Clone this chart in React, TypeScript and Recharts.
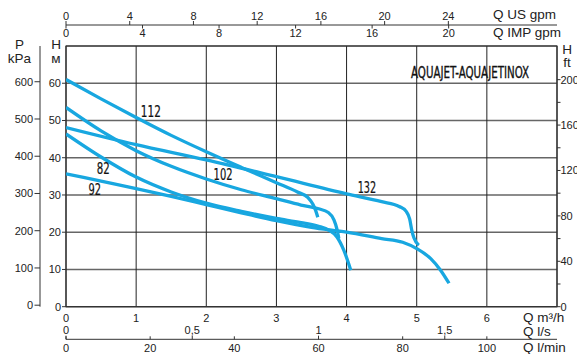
import { LineChart, Line, XAxis, YAxis, CartesianGrid, ReferenceArea, ReferenceDot } from "recharts";

// pump curves, Q in m3/h, H in m
const q82 = [0, 0.5, 1, 1.5, 2, 2.5, 3, 3.35, 3.6, 3.75, 3.86, 3.96, 4.06];
const h82 = [46.4, 40.2, 34.8, 30.8, 27.8, 25.6, 23.7, 22.6, 21.6, 20.5, 18.8, 15.2, 9.8];

const q92 = [0, 0.5, 1, 1.5, 2, 2.5, 3, 3.5, 4, 4.5, 4.8, 5.0, 5.2, 5.34, 5.46];
const h92 = [35.7, 33.7, 31.7, 29.6, 27.4, 25.2, 23.1, 21.3, 20.0, 18.3, 17.3, 15.6, 12.9, 9.8, 6.3];

const q102 = [0, 0.5, 1, 1.5, 2, 2.5, 3, 3.35, 3.6, 3.74, 3.82, 3.86, 3.89];
const h102 = [53.5, 47.2, 41.9, 37.7, 34.3, 31.4, 29.0, 27.3, 26.3, 25.3, 23.3, 21, 18.3];

const q112 = [0, 0.5, 1, 1.5, 2, 2.5, 3, 3.3, 3.45, 3.52, 3.56, 3.59];
const h112 = [61, 55.8, 50.8, 46, 41.6, 37.4, 33.3, 30.8, 29.3, 27.5, 25.8, 24];

const q132 = [0, 1, 2, 3, 4, 4.5, 4.75, 4.85, 4.9, 4.93, 4.96, 5.03];
const h132 = [48.1, 43.5, 39.4, 34.9, 30.3, 28.2, 26.9, 25.6, 23.5, 20.5, 18.5, 16.5];

const curveNames = ["82", "92", "102", "112", "132"];
const curveQ = [q82, q92, q102, q112, q132];
const curveH = [h82, h92, h102, h112, h132];

// where the model numbers sit (Q, H) and how wide they are drawn
const nameQ = [0.53, 0.41, 2.24, 1.21, 4.29];
const nameH = [37.1, 31.5, 35.5, 52.3, 32.1];
const nameW = [13, 12.5, 19, 20, 18.5];

const title = "AQUAJET-AQUAJETINOX";

// axes
const qMax = 7;
const hMax = 70;
const qTicks = [0, 1, 2, 3, 4, 5, 6, 7];
const hTicks = [0, 10, 20, 30, 40, 50, 60, 70];
const kpaTicks = [0, 100, 200, 300, 400, 500, 600];
const ftTicks = [0, 20, 40, 60, 80, 100, 120, 140, 160, 180, 200];
const usGpmTicks = [0, 4, 8, 12, 16, 20, 24];
const impGpmTicks = [0, 4, 8, 12, 16, 20];
const lsTicks = [0, 0.5, 1, 1.5];
const lminTicks = [0, 20, 40, 60, 80, 100];

const US_GPM = 4.4029;
const IMP_GPM = 3.6662;
const L_S = 1 / 3.6;
const L_MIN = 1000 / 60;
const KPA = 10;
const FT = 1 / 0.3048;

const FONT = "'Liberation Sans', Arial, Helvetica, sans-serif";
const NARROW = "'Liberation Sans Narrow', 'DejaVu Sans Condensed', 'Liberation Sans', sans-serif";
const BLUE = "#18a7e0";
const ink = "#222";

const tickText = { fontFamily: FONT, fontSize: 11, fill: ink };
const titleText = { fontFamily: FONT, fontSize: 13.5, fill: ink };

const comma = (v: number) => String(v).replace(".", ",");

const qTick = ({ x, y, payload }: any) =>
  payload.value >= qMax ? <g /> : (
    <text x={x} y={y + 15.5} textAnchor="middle" {...tickText}>{payload.value}</text>
  );

const lsTick = ({ x, y, payload }: any) => (
  <g>
    <line x1={x} x2={x} y1={y + 11} y2={y + 14.6} stroke="#333" />
    <text x={x} y={y + 9.5} textAnchor="middle" {...tickText}>{comma(payload.value)}</text>
  </g>
);

const lminTick = ({ x, y, payload }: any) => (
  <g>
    <line x1={x} x2={x} y1={y - 3} y2={y} stroke="#333" />
    <text x={x} y={y + 12.5} textAnchor="middle" {...tickText}>{payload.value}</text>
  </g>
);

const usTick = ({ x, y, payload }: any) => (
  <g>
    <line x1={x} x2={x} y1={y - 4} y2={y} stroke="#333" />
    <text x={x} y={y - 5} textAnchor="middle" {...tickText}>{payload.value}</text>
  </g>
);

const impTick = ({ x, y, payload }: any) => (
  <g>
    <line x1={x} x2={x} y1={y - 21} y2={y - 17.5} stroke="#333" />
    <text x={x} y={y - 9} textAnchor="middle" {...tickText}>{payload.value}</text>
  </g>
);

const hTick = ({ x, y, payload }: any) =>
  payload.value >= hMax ? <g /> : (
    <g>
      <line x1={x - 4} x2={x} y1={y} y2={y} stroke="#333" />
      <text x={x - 5} y={y + 4} textAnchor="end" {...tickText}>{payload.value}</text>
    </g>
  );

const kpaTick = ({ x, y, payload }: any) => (
  <g>
    <line x1={x - 5.5} x2={x} y1={y - 1.5} y2={y - 1.5} stroke="#333" />
    <text x={x - 7} y={y + 2.5} textAnchor="end" {...tickText}>{payload.value}</text>
  </g>
);

const ftTick = ({ x, y, payload }: any) => (
  <g>
    <line x1={x} x2={x + 3.5} y1={y} y2={y} stroke="#333" />
    {payload.value % 40 === 0 && (
      <text x={x + 3.5} y={y + 4} textAnchor="start" {...tickText}>{payload.value}</text>
    )}
  </g>
);

const rightTitle = (text: string, dx: number, dy: number) => (props: any) => {
  const vb = props.viewBox;
  return <text x={vb.x + vb.width + dx} y={vb.y + dy} {...titleText}>{text}</text>;
};

const stacked = (a: string, b: string, cx: number, y1: number, y2: number) => (props: any) => {
  const vb = props.viewBox;
  return (
    <g>
      <text x={vb.x + cx} y={vb.y + y1} textAnchor="middle" {...titleText}>{a}</text>
      <text x={vb.x + cx} y={vb.y + y2} textAnchor="middle" {...titleText}>{b}</text>
    </g>
  );
};

const nameLabel = (text: string, size: number, width: number, weight = 0.2) => (props: any) => {
  const vb = props.viewBox;
  const cx = vb.x + (vb.width || 0) / 2;
  const cy = vb.y + (vb.height || 0) / 2;
  return (
    <text
      x={cx - width / 2}
      y={cy + size * 0.36}
      fontFamily={NARROW}
      fontSize={size}
      fill="#111"
      stroke="#111"
      strokeWidth={weight}
      textLength={width}
      lengthAdjust="spacingAndGlyphs"
    >
      {text}
    </text>
  );
};

// end points of the unit scales, so every secondary axis has a span
const unitSpan = [0, qMax].map((q) => ({
  us: q * US_GPM,
  imp: q * IMP_GPM,
  ls: q * L_S,
  lmin: q * L_MIN,
}));

export default function App() {
  const series = curveNames.map((name, i) => ({
    name,
    data: curveQ[i].map((q, j) => ({ q, h: curveH[i][j] })),
  }));

  return (
    <div style={{ position: "absolute", left: 0, top: 0, background: "#fff" }}>
      <LineChart width={577} height={354} data={unitSpan} margin={{ top: 5, right: 0, bottom: 0, left: 8 }}>
        <CartesianGrid xAxisId="a_q" yAxisId="a_h" vertical={false} stroke="#666" strokeWidth={1.4} />
        <CartesianGrid xAxisId="a_q" yAxisId="a_h" horizontal={false} stroke="#222" strokeWidth={1} />
        <ReferenceArea xAxisId="a_q" yAxisId="a_h" x1={0} x2={qMax} y1={0} y2={hMax} fill="none" stroke="#333" strokeWidth={1.2} />

        <XAxis xAxisId="a_q" dataKey="q" type="number" orientation="bottom" domain={[0, qMax]} ticks={qTicks}
          allowDataOverflow interval={0} height={18} axisLine={false} tickLine={false} tickSize={0} tickMargin={0}
          tick={qTick} label={rightTitle("Q m³/h", -34, 15.5)} />
        <XAxis xAxisId="b_ls" dataKey="ls" type="number" orientation="bottom" domain={[0, qMax * L_S]} ticks={lsTicks}
          allowDataOverflow interval={0} height={14.6} axisLine={false} tickLine={false} tickSize={0} tickMargin={0}
          tick={lsTick} label={rightTitle("Q l/s", -34, 11.6)} />
        <XAxis xAxisId="c_lmin" dataKey="lmin" type="number" orientation="bottom" domain={[0, qMax * L_MIN]} ticks={lminTicks}
          allowDataOverflow interval={0} height={14.7} axisLine={{ stroke: "#333" }} tickLine={false} tickSize={0} tickMargin={0}
          tick={lminTick} label={rightTitle("Q l/min", -34, 12.6)} />
        <XAxis xAxisId="a_imp" dataKey="imp" type="number" orientation="top" domain={[0, qMax * IMP_GPM]} ticks={impGpmTicks}
          allowDataOverflow interval={0} height={21} axisLine={false} tickLine={false} tickSize={0} tickMargin={0}
          tick={impTick} label={rightTitle("Q IMP gpm", -64, 12.2)} />
        <XAxis xAxisId="b_us" dataKey="us" type="number" orientation="top" domain={[0, qMax * US_GPM]} ticks={usGpmTicks}
          allowDataOverflow interval={0} height={20} axisLine={{ stroke: "#333" }} tickLine={false} tickSize={0} tickMargin={0}
          tick={usTick} label={rightTitle("Q US gpm", -64, 13.7)} />

        <YAxis yAxisId="a_h" type="number" orientation="left" domain={[0, hMax]} ticks={hTicks}
          allowDataOverflow interval={0} width={26} axisLine={false} tickLine={false} tickSize={0} tickMargin={0}
          tick={hTick} label={stacked("H", "м", 16, 2.7, 16.7)} />
        <YAxis yAxisId="b_kpa" type="number" orientation="left" domain={[0, hMax * KPA]} ticks={kpaTicks}
          allowDataOverflow interval={0} width={32} axisLine={{ stroke: "#333" }} tickLine={false} tickSize={0} tickMargin={0}
          tick={kpaTick} label={stacked("P", "kPa", 11.5, 2.7, 16.7)} />
        <YAxis yAxisId="c_ft" type="number" orientation="right" domain={[0, hMax * FT]} ticks={ftTicks}
          allowDataOverflow interval={0} width={20} axisLine={false} tickLine={false} tickSize={0} tickMargin={0}
          tick={ftTick} label={stacked("H", "ft", 10, 7.5, 20.5)} />

        {series.map((s) => (
          <Line key={s.name} xAxisId="a_q" yAxisId="a_h" data={s.data} dataKey="h" type="monotone"
            stroke={BLUE} strokeWidth={3.3} dot={false} activeDot={false} isAnimationActive={false} />
        ))}

        {curveNames.map((name, i) => (
          <ReferenceDot key={"n" + name} xAxisId="a_q" yAxisId="a_h" x={nameQ[i]} y={nameH[i]} r={0}
            fill="none" stroke="none" label={nameLabel(name, 15, nameW[i])} />
        ))}
        <ReferenceDot xAxisId="a_q" yAxisId="a_h" x={5.76} y={63} r={0} fill="none" stroke="none"
          label={nameLabel(title, 16, 118, 0.35)} />
      </LineChart>
    </div>
  );
}
